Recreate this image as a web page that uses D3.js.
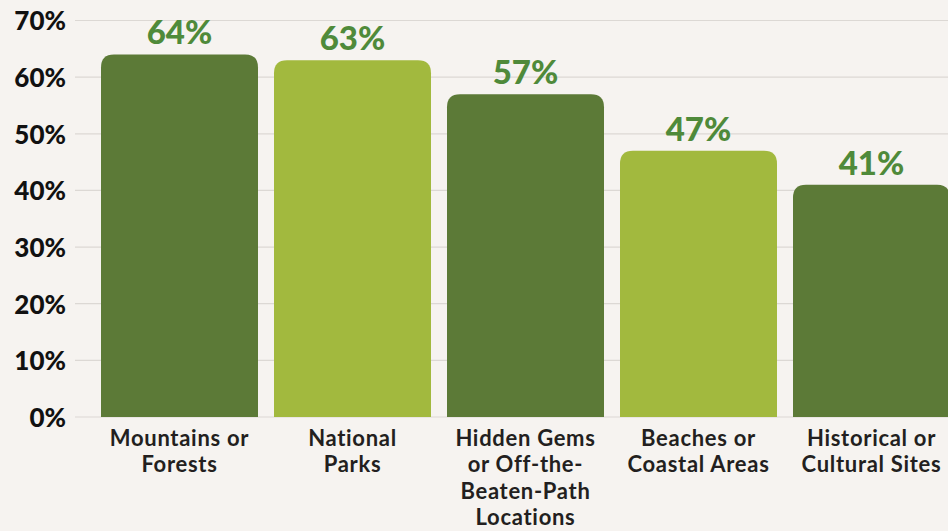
<!DOCTYPE html>
<html>
<head>
<meta charset="utf-8">
<script src="https://cdn.jsdelivr.net/npm/d3@7"></script>
<style>
  html, body { margin: 0; padding: 0; background: #f6f3f0; }
  svg { display: block; }
</style>
</head>
<body>
<svg id="chart" width="948" height="531"></svg>
<script>
// Preferred travel destinations (share of respondents)
const categories = [
  ["Mountains or", "Forests"],
  ["National", "Parks"],
  ["Hidden Gems", "or Off-the-", "Beaten-Path", "Locations"],
  ["Beaches or", "Coastal Areas"],
  ["Historical or", "Cultural Sites"]
];
const values = [64, 63, 57, 47, 41];
const barColors = ["#5c7a37", "#a2b93e", "#5c7a37", "#a2b93e", "#5c7a37"];
const yTicks = [0, 10, 20, 30, 40, 50, 60, 70];

const W = 948, H = 531;
const svg = d3.select("#chart");
svg.append("rect").attr("width", W).attr("height", H).attr("fill", "#f6f3f0");

const plotLeft = 75, plotRight = 948;
const y = d3.scaleLinear().domain([0, 70]).range([417, 20.5]);
const x = d3.scaleBand()
  .domain(d3.range(values.length))
  .range([93, 93 + 173 * values.length])
  .paddingInner(16 / 173)
  .paddingOuter(8 / 173);

// gridlines
svg.append("g").selectAll("line").data(yTicks).join("line")
  .attr("x1", plotLeft).attr("x2", plotRight)
  .attr("y1", d => y(d)).attr("y2", d => y(d))
  .attr("stroke", "#dcd8d4").attr("stroke-width", 1.2);

// y axis labels
const yAxis = d3.axisLeft(y).tickValues(yTicks).tickFormat(d => d + "%").tickSize(0).tickPadding(0);
const ya = svg.append("g").attr("transform", "translate(66,0)").call(yAxis);
ya.select(".domain").remove();
ya.selectAll("text")
  .attr("font-family", "Lato, sans-serif")
  .attr("font-weight", 900)
  .attr("font-size", 26)
  .attr("fill", "#111")
  .attr("dy", "0.36em");

// bars with rounded top corners
const r = 13;
function barPath(i) {
  const x0 = x(i), w = x.bandwidth(), y0 = y(values[i]), yb = y(0);
  return `M${x0},${yb} L${x0},${y0 + r} Q${x0},${y0} ${x0 + r},${y0} L${x0 + w - r},${y0} Q${x0 + w},${y0} ${x0 + w},${y0 + r} L${x0 + w},${yb} Z`;
}
svg.append("g").selectAll("path").data(values).join("path")
  .attr("d", (d, i) => barPath(i))
  .attr("fill", (d, i) => barColors[i]);

// value labels
svg.append("g").selectAll("text").data(values).join("text")
  .attr("x", (d, i) => x(i) + x.bandwidth() / 2)
  .attr("y", d => y(d) - 10)
  .attr("text-anchor", "middle")
  .attr("font-family", "Lato, sans-serif")
  .attr("font-weight", 900)
  .attr("font-size", 33)
  .attr("fill", "#4f8a3a")
  .text(d => d + "%");

// category labels
const cl = svg.append("g").selectAll("text").data(categories).join("text")
  .attr("x", (d, i) => x(i) + x.bandwidth() / 2)
  .attr("y", 446)
  .attr("text-anchor", "middle")
  .attr("font-family", "Lato, sans-serif")
  .attr("font-weight", 700)
  .attr("font-size", 22)
  .attr("letter-spacing", 0.7)
  .attr("fill", "#231f20");
cl.selectAll("tspan").data(d => d).join("tspan")
  .attr("x", function () { return d3.select(this.parentNode).attr("x"); })
  .attr("dy", (d, j) => j === 0 ? 0 : 26.3)
  .text(d => d);
</script>
</body>
</html>
